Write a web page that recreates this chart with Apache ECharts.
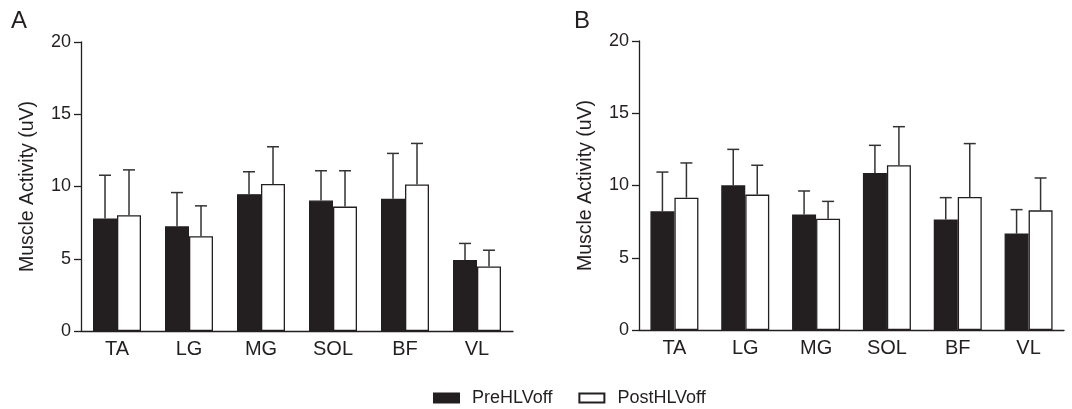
<!DOCTYPE html>
<html>
<head>
<meta charset="utf-8">
<script src="https://cdn.jsdelivr.net/npm/echarts@6/dist/echarts.min.js"></script>
<style>
  html, body { margin: 0; padding: 0; background: #fff; }
  #chart { width: 1072px; height: 409px; }
</style>
</head>
<body>
<div id="chart"></div>
<script>
// muscles on the x axis
const muscles = ['TA', 'LG', 'MG', 'SOL', 'BF', 'VL'];
// panel A means and upper SD
const preA = [7.78, 7.25, 9.47, 9.03, 9.15, 4.92];
const preA_sd = [3.00, 2.33, 1.55, 2.06, 3.14, 1.14];
const postA = [8.01, 6.56, 10.18, 8.61, 10.14, 4.46];
const postA_sd = [3.14, 2.10, 2.57, 2.48, 2.84, 1.13];
// panel B means and upper SD
const preB = [8.21, 10.01, 8.00, 10.87, 7.64, 6.67];
const preB_sd = [2.72, 2.49, 1.62, 1.91, 1.52, 1.66];
const postB = [9.16, 9.37, 7.70, 11.40, 9.20, 8.28];
const postB_sd = [2.40, 2.03, 1.20, 2.67, 3.70, 2.24];
const yTicks = [0, 5, 10, 15, 20];

var ink = '#231f20';
var font = 'Liberation Sans, Arial, sans-serif';
var barW = 24;

var chartDom = document.getElementById('chart');
var myChart = echarts.init(chartDom, null, { renderer: 'canvas' });

function errData(means, sds) {
  return means.map(function (m, i) { return [i, m, m + sds[i]]; });
}

function errSeries(idx, means, sds, offset) {
  return {
    type: 'custom',
    name: 'err',
    xAxisIndex: idx,
    yAxisIndex: idx,
    z: 5,
    silent: true,
    data: errData(means, sds),
    renderItem: function (params, api) {
      var base = api.coord([api.value(0), api.value(1)]);
      var hi = api.coord([api.value(0), api.value(2)]);
      var x = base[0] + offset;
      var st = { stroke: '#333', lineWidth: 1.5 };
      return {
        type: 'group',
        children: [
          { type: 'line', shape: { x1: x, y1: base[1], x2: x, y2: hi[1] }, style: st },
          { type: 'line', shape: { x1: x - 6, y1: hi[1], x2: x + 6, y2: hi[1] }, style: st }
        ]
      };
    }
  };
}

function xAx(idx) {
  return {
    type: 'category',
    gridIndex: idx,
    data: muscles,
    axisLine: { lineStyle: { color: ink, width: 1.3 } },
    axisTick: { show: false },
    axisLabel: { color: ink, fontSize: 20, fontFamily: font, margin: 8 }
  };
}

function yAx(idx) {
  return {
    type: 'value',
    gridIndex: idx,
    min: yTicks[0],
    max: yTicks[yTicks.length - 1],
    interval: 5,
    name: 'Muscle Activity (uV)',
    nameLocation: 'middle',
    nameGap: 43,
    nameTextStyle: { color: ink, fontSize: 19.5, fontFamily: font },
    axisLine: { show: true, lineStyle: { color: ink, width: 1.3 } },
    axisTick: { show: true, length: 7, lineStyle: { color: ink, width: 1.3 } },
    axisLabel: { color: ink, fontSize: 18, fontFamily: font, margin: 10 },
    splitLine: { show: false }
  };
}

function barSeries(idx, name, data, fill) {
  return {
    type: 'bar',
    name: name,
    xAxisIndex: idx,
    yAxisIndex: idx,
    data: data,
    barWidth: barW,
    barGap: '0%',
    itemStyle: { color: fill, borderColor: ink, borderWidth: 1.3 }
  };
}

var option = {
  animation: false,
  title: [
    { text: 'A', left: 11, top: 9, padding: 0, textStyle: { fontSize: 24, fontWeight: 'normal', color: ink, fontFamily: font } },
    { text: 'B', left: 574, top: 9, padding: 0, textStyle: { fontSize: 24, fontWeight: 'normal', color: ink, fontFamily: font } }
  ],
  legend: {
    data: ['PreHLVoff', 'PostHLVoff'],
    icon: 'rect',
    left: 428,
    top: 384,
    itemWidth: 25,
    itemHeight: 9,
    itemGap: 26,
    textStyle: { color: ink, fontSize: 18, fontFamily: font, padding: [0, 0, 0, 8] }
  },
  grid: [
    { left: 81, top: 42, width: 432, height: 289 },
    { left: 639, top: 41, width: 425, height: 289 }
  ],
  xAxis: [xAx(0), xAx(1)],
  yAxis: [yAx(0), yAx(1)],
  series: [
    barSeries(0, 'PreHLVoff', preA, ink),
    barSeries(0, 'PostHLVoff', postA, '#ffffff'),
    barSeries(1, 'PreHLVoff', preB, ink),
    barSeries(1, 'PostHLVoff', postB, '#ffffff'),
    errSeries(0, preA, preA_sd, -barW / 2),
    errSeries(0, postA, postA_sd, barW / 2),
    errSeries(1, preB, preB_sd, -barW / 2),
    errSeries(1, postB, postB_sd, barW / 2)
  ]
};

option && myChart.setOption(option);
</script>
</body>
</html>
